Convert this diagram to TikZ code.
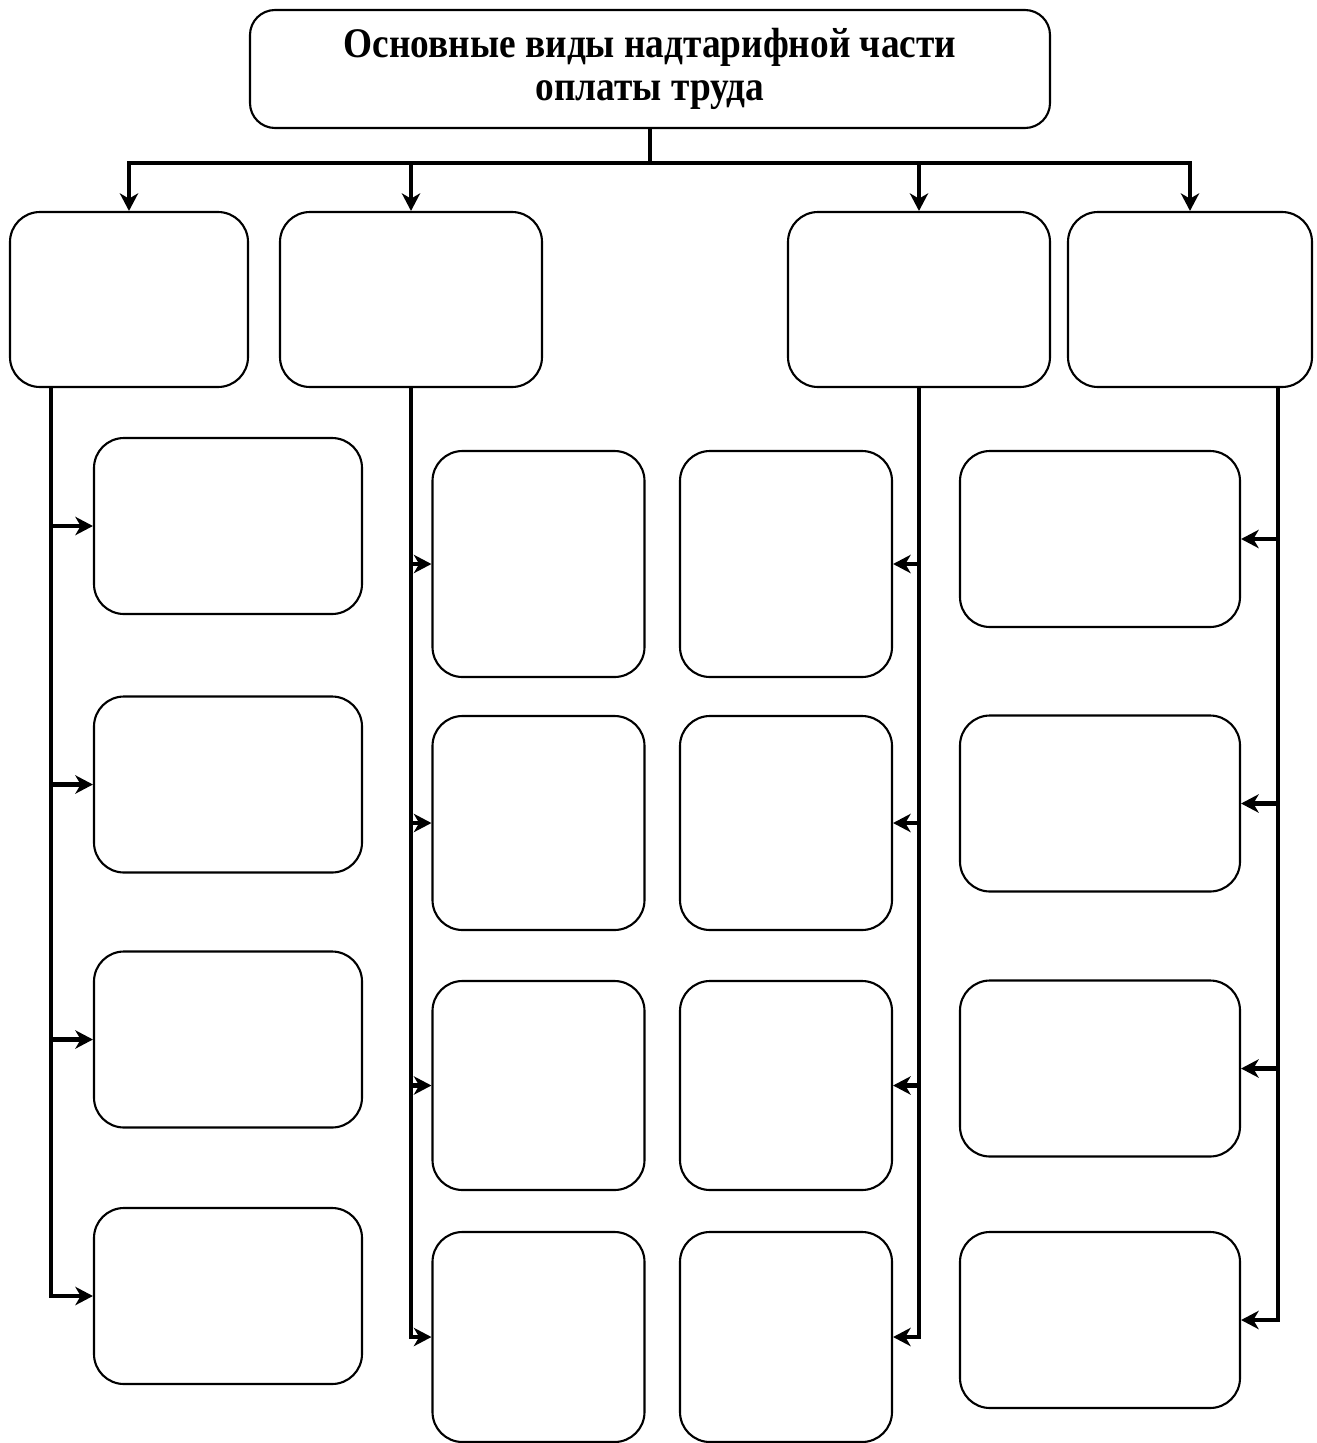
\documentclass[tikz,border=0pt]{standalone}
\usepackage{fontspec}
\setmainfont{Liberation Serif}
\newfontfamily\headfont{Liberation Serif}[FakeStretch=0.885]
\usetikzlibrary{arrows.meta}
\tikzset{
  cellbox/.style={draw,rounded corners=3mm,line width=0.6pt,inner sep=0pt},
  headbox/.style={cellbox,rounded corners=2.5mm,align=center,
    font=\headfont\fontsize{12}{12.4}\selectfont\bfseries},
  leftcol/.style={cellbox,minimum width=2.68cm,minimum height=1.76cm},
  midcol/.style={cellbox,minimum width=2.12cm},
  rightcol/.style={cellbox,minimum width=2.8cm,minimum height=1.76cm},
  busLine/.style={line width=1.3pt},
  feedArrow/.style={-{Stealth[length=5pt,width=5.2pt,inset=1.5pt]},line width=1.3pt}
}

\begin{document}
\begin{tikzpicture}[y=-1cm]
  \useasboundingbox (0,0) rectangle (13.17,14.43);
  \node[headbox,minimum width=8cm,minimum height=1.18cm] (head) at (6.5,0.69)
    {Основные виды надтарифной части\\оплаты труда};
  % first row
  \node[cellbox,minimum width=2.38cm,minimum height=1.75cm] (A) at (1.29,2.995) {};
  \node[cellbox,minimum width=2.62cm,minimum height=1.75cm] (B) at (4.11,2.995) {};
  \node[cellbox,minimum width=2.62cm,minimum height=1.75cm] (C) at (9.19,2.995) {};
  \node[cellbox,minimum width=2.44cm,minimum height=1.75cm] (D) at (11.9,2.995) {};
  % columns
  \node[leftcol] (L1) at (2.28,5.26) {};
  \node[leftcol] (L2) at (2.28,7.845) {};
  \node[leftcol] (L3) at (2.28,10.395) {};
  \node[leftcol] (L4) at (2.28,12.96) {};
  \node[midcol,minimum height=2.26cm] (M1) at (5.385,5.64) {};
  \node[midcol,minimum height=2.14cm] (M2) at (5.385,8.23) {};
  \node[midcol,minimum height=2.09cm] (M3) at (5.385,10.855) {};
  \node[midcol,minimum height=2.1cm] (M4) at (5.385,13.37) {};
  \node[midcol,minimum height=2.26cm] (N1) at (7.86,5.64) {};
  \node[midcol,minimum height=2.14cm] (N2) at (7.86,8.23) {};
  \node[midcol,minimum height=2.09cm] (N3) at (7.86,10.855) {};
  \node[midcol,minimum height=2.1cm] (N4) at (7.86,13.37) {};
  \node[rightcol] (R1) at (11,5.39) {};
  \node[rightcol] (R2) at (11,8.035) {};
  \node[rightcol] (R3) at (11,10.685) {};
  \node[rightcol] (R4) at (11,13.2) {};
  % bus from the head box
  \coordinate (bus) at (6.5,1.63);
  \coordinate (tA) at ([xshift=4.2mm]A.south west);
  \coordinate (tD) at ([xshift=-3.5mm]D.south east);
  \draw[busLine] (head) -- (bus);
  \draw[feedArrow] (bus) -| (A);
  \draw[feedArrow] (bus) -| (B);
  \draw[feedArrow] (bus) -| (C);
  \draw[feedArrow] (bus) -| (D);
  % trunks
  \draw[feedArrow] (tA) |- (L1);
  \draw[feedArrow] (tA) |- (L2);
  \draw[feedArrow] (tA) |- (L3);
  \draw[feedArrow] (tA) |- (L4);
  \draw[feedArrow] (B.south) |- (M1);
  \draw[feedArrow] (B.south) |- (M2);
  \draw[feedArrow] (B.south) |- (M3);
  \draw[feedArrow] (B.south) |- (M4);
  \draw[feedArrow] (C.south) |- (N1);
  \draw[feedArrow] (C.south) |- (N2);
  \draw[feedArrow] (C.south) |- (N3);
  \draw[feedArrow] (C.south) |- (N4);
  \draw[feedArrow] (tD) |- (R1);
  \draw[feedArrow] (tD) |- (R2);
  \draw[feedArrow] (tD) |- (R3);
  \draw[feedArrow] (tD) |- (R4);
\end{tikzpicture}
\end{document}
